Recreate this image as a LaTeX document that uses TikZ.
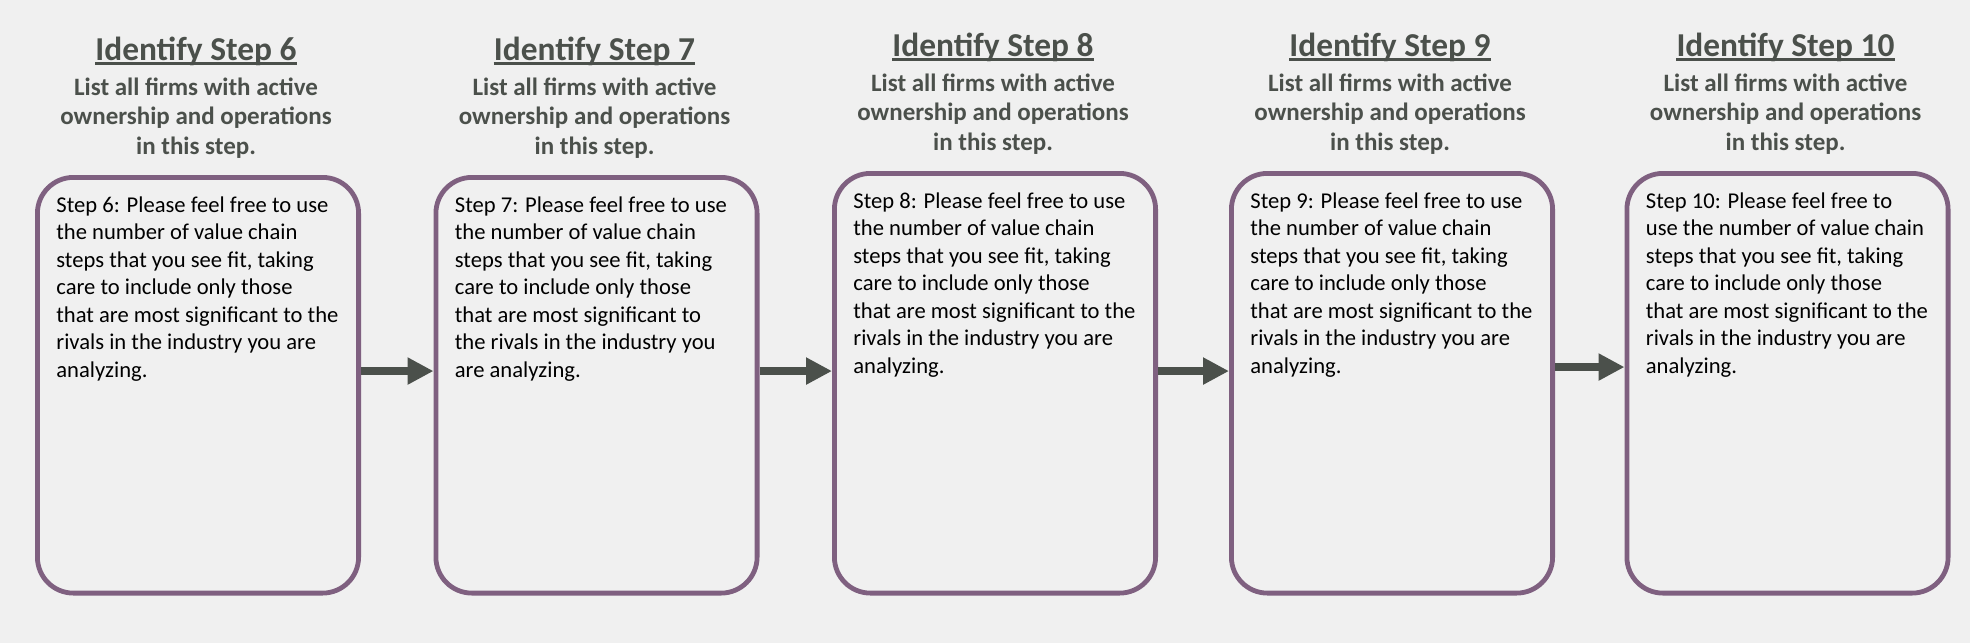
\documentclass[tikz,border=0pt]{standalone}
\usepackage{fontspec}
\setmainfont{Carlito}
\usetikzlibrary{positioning, arrows.meta}

\definecolor{chainpurple}{HTML}{7F6080}
\definecolor{chaingray}{HTML}{4B504B}
\definecolor{pagegray}{HTML}{F0F0F0}

\tikzset{
  stepbox/.style={draw=chainpurple, line width=2.4pt, rounded corners=18pt, minimum width=160.6pt, inner sep=0pt},
  steptitle/.style={font=\fontsize{16.7}{20}\selectfont\bfseries, text=chaingray, inner sep=0pt, anchor=base},
  stepsub/.style={font=\fontsize{12.5}{14.75}\selectfont\bfseries, text=chaingray, align=center, inner sep=0pt, anchor=base},
  steptext/.style={font=\fontsize{11.3}{13.75}\selectfont, align=left, inner sep=0pt, anchor=base west},
  flow/.style={draw=chaingray, line width=4.2pt, -{Triangle[length=13pt, width=12.8pt]}}
}

\begin{document}
\begin{tikzpicture}[x=0.5pt, y=-0.5pt]
\fill[pagegray] (0,0) rectangle (1970,643);
\useasboundingbox (0,0) rectangle (1970,643);

% boxes with their headings (base of a multi-line node = its last line)
\foreach \n/\cx/\top in {6/198/175, 7/596.5/175, 8/995/171, 9/1392/171, 10/1787.5/171} {
  \pgfmathsetmacro{\hgt}{(590.7-\top)*0.5}
  \pgfmathsetmacro{\cy}{(\top+595.5)/2}
  \node[stepbox, minimum height=\hgt pt] (box\n) at (\cx,\cy) {};
  \node[steptitle] (title\n) at (\cx-2,\top-114.5) {Identify Step \n};
  \draw[chaingray, line width=1.35pt] ([yshift=-1.6pt]title\n.base west) -- ([yshift=-1.6pt]title\n.base east);
  \node[stepsub] (sub\n) at (\cx-2,\top-20.8) {List all firms with active\\ownership and operations\\in this step.};
}

% box texts
\node[steptext] (text6) at ([xshift=10.5pt, yshift=-101pt]box6.north west) {Step 6: Please feel free to use\\the number of value chain\\steps that you see fit, taking\\care to include only those\\that are most significant to the\\rivals in the industry you are\\analyzing.};
\node[steptext] (text7) at ([xshift=10.5pt, yshift=-101pt]box7.north west) {Step 7: Please feel free to use\\the number of value chain\\steps that you see fit, taking\\care to include only those\\that are most significant to\\the rivals in the industry you\\are analyzing.};
\node[steptext] (text8) at ([xshift=10.5pt, yshift=-101pt]box8.north west) {Step 8: Please feel free to use\\the number of value chain\\steps that you see fit, taking\\care to include only those\\that are most significant to the\\rivals in the industry you are\\analyzing.};
\node[steptext] (text9) at ([xshift=10.5pt, yshift=-101pt]box9.north west) {Step 9: Please feel free to use\\the number of value chain\\steps that you see fit, taking\\care to include only those\\that are most significant to the\\rivals in the industry you are\\analyzing.};
\node[steptext] (text10) at ([xshift=10.5pt, yshift=-101pt]box10.north west) {Step 10: Please feel free to\\use the number of value chain\\steps that you see fit, taking\\care to include only those\\that are most significant to the\\rivals in the industry you are\\analyzing.};

% arrows between steps
\foreach \a/\b/\sa/\sb in {6/7/7.1/7.1, 7/8/7.1/6.1, 8/9/6.1/6.1, 9/10/8.1/8.1} {
  \draw[flow] ([yshift=\sa pt]box\a.east) -- ([yshift=\sb pt]box\b.west);
}
\end{tikzpicture}
\end{document}
